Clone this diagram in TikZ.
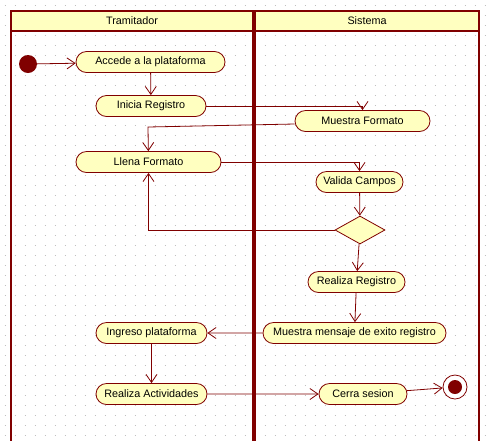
\documentclass[tikz,border=0pt]{standalone}
\usepackage{fontspec}
\setmainfont{Liberation Sans}
\usetikzlibrary{shapes.misc,shapes.geometric,arrows.meta}
\definecolor{umlred}{HTML}{800000}
\definecolor{umlfill}{HTML}{FFFFC0}

\begin{document}
\begin{tikzpicture} [
  x=1pt, y=-1pt,
  font=\fontsize{10.8}{13}\selectfont,
  activity/.style={rounded rectangle,draw=umlred,fill=umlfill,line width=0.8pt,minimum height=21pt,inner sep=0pt},
  header/.style={rectangle,draw=umlred,fill=umlfill,line width=1.6pt,minimum height=20pt,inner sep=0pt},
  lane/.style={draw=umlred,line width=1.6pt},
  flow/.style={draw=umlred,line width=0.8pt,-{Straight Barb[length=8pt,width=11pt]}}]

\useasboundingbox (0,0) rectangle (489,440);
\fill[white] (0,0) rectangle (489,440);
\foreach \y in {5,15,...,435}
  \draw[gray!50,line width=1pt,dash pattern=on 1pt off 9pt] (4.5,\y) -- (489,\y);

% lanes
\draw[lane] (11,31) -- (11,445);
\draw[lane] (253,31) -- (253,445);
\draw[lane] (255,31) -- (255,445);
\draw[lane] (479,31) -- (479,445);
\node[header,minimum width=242pt] (tramitador) at (132,21) {Tramitador};
\node[header,minimum width=224pt] (sistema) at (367,21) {Sistema};

% nodes
\node[circle,fill=umlred,minimum size=18pt,inner sep=0pt] (inicio) at (28,64) {};
\node[activity,minimum width=149pt] (accede) at (150.5,62) {Accede a la plataforma};
\node[activity,minimum width=110pt] (inicia) at (151,106) {Inicia Registro};
\node[activity,minimum width=135pt] (muestra) at (362.5,121) {Muestra Formato};
\node[activity,minimum width=145pt] (llena) at (148.5,162) {Llena Formato};
\node[activity,minimum width=87pt] (valida) at (359.5,182) {Valida Campos};
\node[diamond,draw=umlred,fill=umlfill,line width=0.8pt,minimum width=50pt,minimum height=28pt,inner sep=0pt] (decision) at (360,230) {};
\node[activity,minimum width=97pt] (realiza) at (356.5,282) {Realiza Registro};
\node[activity,minimum width=183pt] (mensaje) at (354.5,333) {Muestra mensaje de exito registro};
\node[activity,minimum width=111pt] (ingreso) at (151.5,333) {Ingreso plataforma};
\node[activity,minimum width=111pt] (actividades) at (151.5,394) {Realiza Actividades};
\node[activity,minimum width=88pt] (cerrar) at (363,394) {Cerra sesion};
\node[circle,draw=umlred,fill=white,line width=0.8pt,minimum size=24pt,inner sep=0pt] (fin) at (455,387) {};
\fill[umlred] (fin) circle (7);

\coordinate (codo) at (148,127);

% flows
\draw[flow] (inicio) -- (accede);
\draw[flow] (accede) -- (inicia);
\draw[flow] (inicia) -| (muestra);
\draw[flow] ([yshift=-3pt]muestra.west) -- (codo) -- (llena);
\draw[flow] (llena) -| (valida);
\draw[flow] (valida) -- (decision);
\draw[flow] (decision) -| (llena);
\draw[flow] (decision) -- (realiza);
\draw[flow] (realiza) -- (mensaje);
\draw[flow] (mensaje) -- (ingreso);
\draw[flow] (ingreso) -- (actividades);
\draw[flow] (actividades) -- (cerrar);
\draw[flow] (cerrar) -- (fin);
\end{tikzpicture}
\end{document}
